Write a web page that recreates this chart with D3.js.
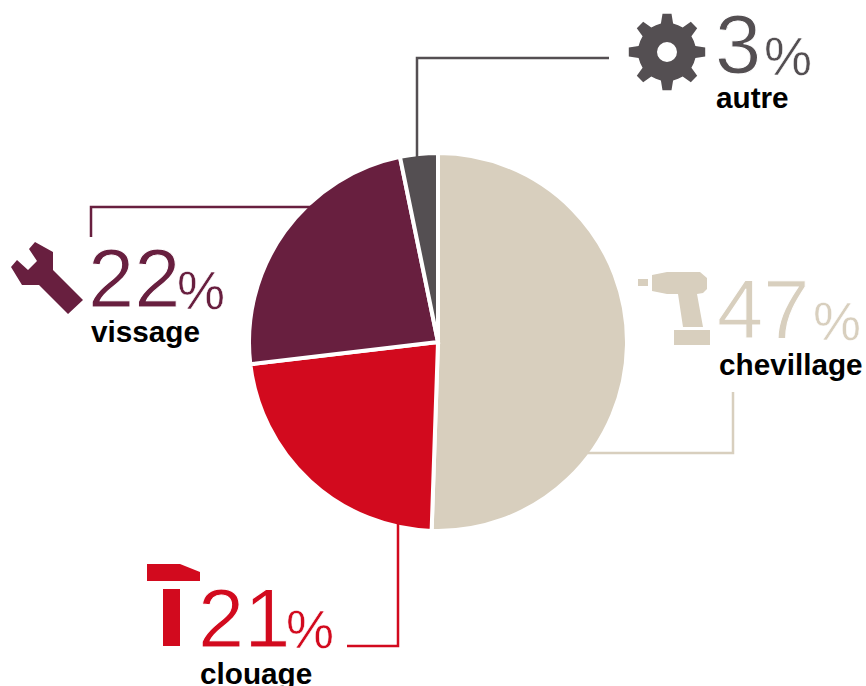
<!DOCTYPE html>
<html><head><meta charset="utf-8">
<script src="https://cdn.jsdelivr.net/npm/d3@7"></script>
<style>html,body{margin:0;padding:0;background:#fff}svg{display:block}</style>
</head><body><svg id="c" width="866" height="686"></svg>
<script>
const categories = ["chevillage","clouage","vissage","autre"];
const values = [47,21,22,3];
const colors = ["#d8cfbe","#d20a1e","#681f3f","#544f52"];

const layout = {
  chevillage:{num:[717,338],pct:[813,340],lab:[719,375],leader:[[584,453],[733,453],[733,392]],
    icon:"M652 275L667 272L700 272L707 278L707 289L703 293L697 294L703 327L683 327L678 294L667 294L652 291ZM638 279H648V286H638ZM674 330H710V345H674Z"},
  clouage:{num:[198,647],pct:[286,648],lab:[200,684],leader:[[398,522],[398,646],[347,646]],
    icon:"M147 564H180L200 572V581H147ZM163 589H180V646H163Z"},
  vissage:{num:[88,307],pct:[177,309],lab:[91,342],leader:[[312,207],[91,207],[91,237]],
    icon:"M35 242L53 252L53 270L83 300L68 314L39 285L22 285L11 267L17 260L28 270L37 261L29 249Z"},
  autre:{num:[715,73],pct:[764,75],lab:[716,108],leader:[[417,158],[417,58],[609,58]],icon:null}
};

const svg = d3.select("#c");
const cx=438, cy=342, R=189;
const pie = d3.pie().sort(null)(values);
const arc = d3.arc().innerRadius(0).outerRadius(R);
const line = d3.line();

svg.append("g").attr("transform",`translate(${cx},${cy})`)
  .selectAll("path").data(pie).join("path")
  .attr("d",arc).attr("fill",(d,i)=>colors[i])
  .attr("stroke","#fff").attr("stroke-width",4).attr("stroke-linejoin","miter");
categories.forEach((c,i)=>{
  svg.append("path").attr("d",line(layout[c].leader)).attr("fill","none")
    .attr("stroke",colors[i]).attr("stroke-width",2.5);
});

categories.forEach((c,i)=>{
  const L=layout[c];
  if(L.icon) svg.append("path").attr("d",L.icon).attr("fill",colors[i]).attr("fill-rule","evenodd");
  svg.append("text").attr("x",L.num[0]).attr("y",L.num[1]).text(values[i])
    .attr("font-family","Liberation Sans").attr("font-size",83).attr("fill",colors[i])
    .attr("stroke","#fff").attr("stroke-width",1).attr("paint-order","fill");
  svg.append("text").attr("x",L.pct[0]).attr("y",L.pct[1]).text("%")
    .attr("font-family","Liberation Sans").attr("font-size",54).attr("fill",colors[i])
    .attr("stroke","#fff").attr("stroke-width",0.5).attr("paint-order","fill");
  svg.append("text").attr("x",L.lab[0]).attr("y",L.lab[1]).text(c)
    .attr("font-family","Liberation Sans").attr("font-weight",700).attr("font-size",29.7).attr("fill","#000");
});

// gear icon
const gc=[667,52], n=8; let g="";
for(let k=0;k<n;k++){
  const a=-Math.PI/2+k*2*Math.PI/n, s=2*Math.PI/n;
  const pts=[[29,-0.5*s],[29,-0.27*s],[38.5,-0.15*s],[38.5,0.15*s],[29,0.27*s]];
  pts.forEach(([r,o])=>{g+=(g?"L":"M")+(gc[0]+r*Math.cos(a+o)).toFixed(1)+" "+(gc[1]+r*Math.sin(a+o)).toFixed(1);});
}
g+="Z M"+(gc[0]-10)+" "+gc[1]+"a10 10 0 1 0 20 0a10 10 0 1 0 -20 0Z";
svg.append("path").attr("d",g).attr("fill",colors[3]).attr("fill-rule","evenodd");
</script></body></html>
